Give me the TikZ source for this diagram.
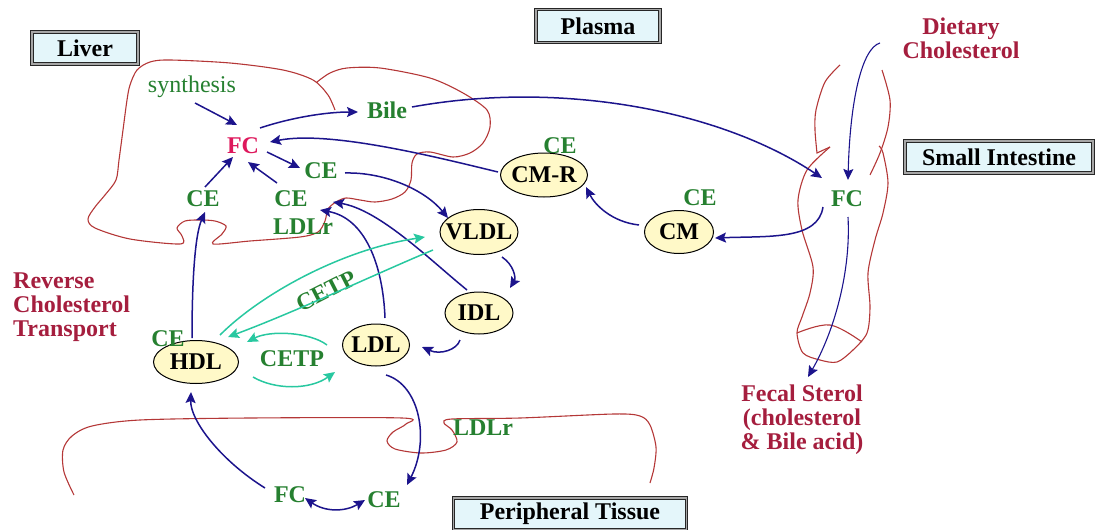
\documentclass[tikz,border=0pt]{standalone}
\usepackage{fontspec}
\setmainfont{Liberation Serif}[BoldFont={Liberation Serif Bold}]
\usetikzlibrary{shapes.geometric,arrows.meta,calc}
\definecolor{lgreen}{RGB}{38,128,48}
\definecolor{lred}{RGB}{165,30,62}
\definecolor{fcred}{RGB}{222,24,92}
\definecolor{navy}{RGB}{28,20,140}
\definecolor{cyanarr}{RGB}{40,200,160}
\definecolor{outl}{RGB}{180,55,55}
\definecolor{ellfill}{RGB}{255,249,200}
\definecolor{boxfill}{RGB}{228,246,250}
\newcommand\ztext[1]{\makebox[0pt]{#1}}
\begin{document}
\begin{tikzpicture}[x=1pt,y=-1pt,
  bigfont/.style={font=\fontsize{24}{24}\selectfont\bfseries},
  lbl/.style={bigfont, text=lgreen, inner sep=1pt},
  redlbl/.style={bigfont, text=lred, inner sep=1pt},
  ell/.style 2 args={ellipse, draw=black, line width=1pt, fill=ellfill, minimum width=#1, minimum height=#2, inner sep=0pt, bigfont},
  titlebox/.style 2 args={rectangle, draw=black!85, line width=0.9pt, double=black!35, double distance=1.4pt, fill=boxfill, minimum width=#1, minimum height=#2, inner sep=0pt, bigfont},
  nav/.style={draw=navy, line width=1.5pt, -{Stealth[length=11pt,width=10pt,inset=2pt]}},
  navthin/.style={draw=navy, line width=1.1pt, -{Stealth[length=11pt,width=10pt,inset=2pt]}},
  navboth/.style={draw=navy, line width=1.5pt, {Stealth[length=11pt,width=10pt,inset=2pt]}-{Stealth[length=11pt,width=10pt,inset=2pt]}},
  cya/.style={draw=cyanarr, line width=1.5pt, -{Stealth[length=11pt,width=10pt,inset=2pt]}},
  organ/.style={draw=outl, line width=1.1pt}
]
\useasboundingbox (0,0) rectangle (1096,530);

% organ outlines
\draw[organ] plot[smooth, tension=0.5] coordinates {(335,110) (328,95) (313,80) (283,70) (230,63) (170,60) (150,62) (137,70) (130,85) (127,100) (123,130) (119,160) (116,180) (105,195) (95,207) (88,219) (95,228) (130,239) (180,244) (182,236) (177,228) (185,221) (200,220) (215,221) (226,226) (222,234) (213,244) (250,241) (300,237) (318,232) (325,221) (328,209) (336,202) (346,198) (360,200) (375,202) (392,199) (405,192) (411,180) (412,163) (417,154) (430,152) (453,157) (470,153) (483,143) (490,127) (487,110) (463,93) (430,78) (380,68) (347,68) (330,73) (317,82)};
\draw[organ] plot[smooth, tension=0.5] coordinates {(74,495) (64,472) (63,450) (72,436) (92,426) (140,420) (250,418) (402,418) (406,424) (393,432) (387,441) (395,449) (421,453) (446,450) (457,442) (452,430) (444,423) (452,419) (520,418) (614,414) (640,416) (650,425) (656,447) (654,468) (650,483)};
\draw[organ] plot[smooth, tension=0.5] coordinates {(840,65) (825,82) (816,110) (815,130) (817,153)} -- (830,147);
\draw[organ] plot[smooth, tension=0.5] coordinates {(830,147) (807,170) (798,200) (802,230) (813,267) (810,293) (802,317) (797,333) (803,353) (820,360) (837,362) (853,350) (867,333) (870,307) (868,273) (875,240) (883,213) (888,183) (883,153) (879,146)};
\draw[organ] plot[smooth, tension=0.5] coordinates {(882,70) (890,100) (888,127) (880,153) (870,175)};
\draw[organ] plot[smooth, tension=0.6] coordinates {(797,333) (830,325) (862,342)};

% title boxes
\node[titlebox={106}{32}] (liver) at (85,48) {Liver};
\node[titlebox={124}{33}] (plasma) at (598,26) {Plasma};
\node[titlebox={188}{32}] (intest) at (999,157) {Small Intestine};
\node[titlebox={233}{32}] (periph) at (570,514) {Peripheral Tissue};

% red labels
\node[redlbl, align=center] (diet) at (961,38) {Dietary\\Cholesterol};
\node[redlbl, align=left, anchor=west] (rct) at (12,307) {Reverse\\Cholesterol\\Transport};
\node[redlbl, align=center] (fecal) at (802,420) {Fecal Sterol\\(cholesterol\\\& Bile acid)};

% green labels
\node[lbl, font=\fontsize{24}{24}\selectfont] (syn) at (192,87) {synthesis};
\node[lbl, text=fcred] (fcL) at (243,146) {FC};
\node[lbl] (bile) at (387,110) {Bile};
\node[lbl] (ceR) at (321,171) {CE};
\node[lbl] (ceL) at (203,199) {CE};
\node[lbl] (ceM) at (291,199) {CE};
\node[lbl] (ldlrL) at (303,227) {LDLr};
\node[lbl] (ceCMR) at (560,146) {CE};
\node[lbl] (ceCM) at (700,198) {CE};
\node[lbl] (fcI) at (847,199) {FC};
\node[lbl, rotate=27] (cetp1) at (326,291) {CETP};
\node[lbl] (cetp2) at (292,359) {CETP};
\node[lbl] (ldlrP) at (483,428) {LDLr};
\node[lbl] (fcP) at (290,495) {FC};
\node[lbl] (ceP) at (384,500) {CE};

% lipoproteins
\node[ell={87}{44}] (cmr) at (544,175) {\ztext{CM-R}};
\node[ell={69}{43}] (cm) at (679,232) {\ztext{CM}};
\node[ell={78}{45}] (vldl) at (479,232) {\ztext{VLDL}};
\node[ell={68}{42}] (idl) at (479,313) {\ztext{IDL}};
\node[ell={67}{42}] (ldl) at (376,345) {\ztext{LDL}};
\node[ell={85}{43}] (hdl) at (196,362) {\ztext{HDL}};
\node[lbl] (ceHDL) at (168,339) {CE};

% navy arrows
\draw[nav] ($(syn)+(3,16)$) -- ($(fcL)+(-6,-21)$);
\draw[nav] ($(fcL)+(17,-18)$) .. controls (290,118) and (325,112) .. ($(bile)+(-29,2)$);
\draw[nav] ($(cmr)+(-46,-3)$) .. controls (440,158) and (330,130) .. ($(fcL)+(27,-4)$);
\draw[nav] ($(fcL)+(24,6)$) -- ($(ceR)+(-21,-3)$);
\draw[nav] ($(ceR)+(24,2)$) .. controls (385,172) and (425,190) .. ($(vldl)+(-31,-14)$);
\draw[nav] ($(ceL)+(2,-12)$) -- ($(fcL)+(-10,11)$);
\draw[nav] ($(ceM)+(-14,-16)$) -- ($(fcL)+(5,16)$);
\draw[nav] ($(hdl)+(-4,-24)$) .. controls (192,280) and (195,235) .. ($(ceL)+(2,13)$);
\draw[nav] ($(ldl)+(9,-27)$) .. controls (383,265) and (365,218) .. ($(ldlrL)+(17,-17)$);
\draw[nav] ($(idl)+(-12,-23)$) .. controls (430,260) and (380,210) .. ($(ldlrL)+(30,-25)$);
\draw[nav] ($(vldl)+(23,25)$) .. controls (514,265) and (516,278) .. ($(idl)+(31,-25)$);
\draw[nav] ($(idl)+(-19,27)$) .. controls (457,350) and (440,355) .. ($(ldl)+(46,2)$);
\draw[nav] ($(ldl)+(10,30)$) .. controls (420,385) and (430,440) .. ($(ceP)+(23,-15)$);
\draw[nav] ($(fcP)+(-25,-7)$) .. controls (220,460) and (190,420) .. ($(hdl)+(-5,30)$);
\draw[navboth] ($(fcP)+(15,3)$) .. controls (325,512) and (345,512) .. ($(ceP)+(-19,0)$);
\draw[nav] ($(bile)+(25,-3)$) .. controls (560,80) and (720,110) .. ($(fcI)+(-25,-21)$);
\draw[navthin] ($(diet)+(-81,5)$) .. controls (862,48) and (850,100) .. ($(fcI)+(1,-19)$);
\draw[nav] ($(fcI)+(-24,8)$) .. controls (818,240) and (770,236) .. ($(cm)+(36,6)$);
\draw[nav] ($(cm)+(-40,-7)$) .. controls (612,222) and (595,205) .. ($(cmr)+(42,12)$);
\draw[navthin] ($(fcI)+(1,18)$) .. controls (851,270) and (835,330) .. ($(fecal)+(6,-43)$);

% CETP arrows
\draw[cya] ($(hdl)+(24,-27)$) .. controls (260,295) and (340,250) .. ($(vldl)+(-54,5)$);
\draw[cya] ($(vldl)+(-46,18)$) .. controls (380,272) and (300,310) .. ($(hdl)+(32,-25)$);
\draw[cya] ($(ldl)+(-49,0)$) .. controls (310,332) and (270,330) .. ($(hdl)+(51,-20)$);
\draw[cya] ($(hdl)+(57,15)$) .. controls (275,390) and (310,390) .. ($(ldl)+(-41,27)$);
\end{tikzpicture}
\end{document}
